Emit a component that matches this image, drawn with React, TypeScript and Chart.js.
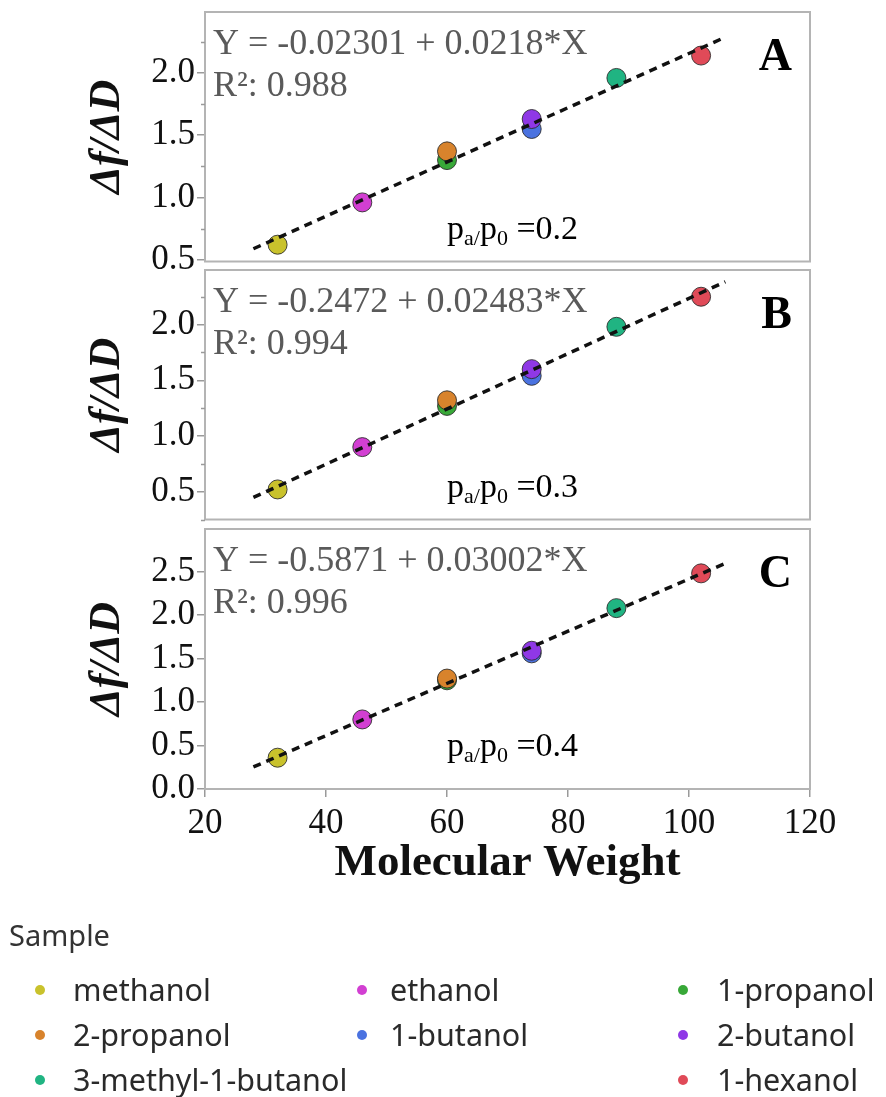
import React, { useEffect, useRef } from 'react';
import { Chart, registerables } from 'chart.js';

Chart.register(...registerables);

// ---------- data ----------
const samples = ['methanol', 'ethanol', '1-propanol', '2-propanol', '1-butanol', '2-butanol', '3-methyl-1-butanol', '1-hexanol'];
const sampleColors = ['#c9c22c', '#d23fd2', '#38a838', '#d8832c', '#4a72e0', '#8f38e6', '#20b482', '#e04a58'];
const molecularWeights = [32, 46, 60, 60, 74, 74, 88, 102];
const ratioA = [0.62, 0.96, 1.3, 1.37, 1.55, 1.63, 1.96, 2.14];
const ratioB = [0.52, 0.9, 1.27, 1.32, 1.54, 1.6, 1.98, 2.25];
const ratioC = [0.36, 0.8, 1.25, 1.27, 1.56, 1.59, 2.08, 2.48];
const panelLetters = ['A', 'B', 'C'];
const pressureRatios = ['0.2', '0.3', '0.4'];
const fitIntercepts = [-0.02301, -0.2472, -0.5871];
const fitSlopes = [0.0218, 0.02483, 0.03002];
const fitEquations = ['Y = -0.02301 + 0.0218*X', 'Y = -0.2472 + 0.02483*X', 'Y = -0.5871 + 0.03002*X'];
const rSquared = ['0.988', '0.994', '0.996'];
const fitRange = [28, 106];
const yMins = [0.485, 0.25, 0];
const yMaxs = [2.49, 2.49, 2.99];
const xMin = 20;
const xMax = 120;
const xStep = 20;
const yStep = 0.5;
const minorSteps = [0.25, 0.25, 0];
const legendRows = [[0, 1, 2], [3, 4, 5], [6, -1, 7]];
const panelValues = [ratioA, ratioB, ratioC];

const SERIF = '"Liberation Serif", "Times New Roman", serif';
const SANS = '"Noto Sans", "Open Sans", sans-serif';

const decorPlugin = {
  id: 'panelDecor',
  beforeDatasetsDraw(chart: any, _args: any, opts: any) {
    const { ctx, chartArea } = chart;
    const { left, top, right, bottom } = chartArea;
    ctx.save();
    ctx.strokeStyle = '#b4b4b4';
    ctx.lineWidth = 2;
    ctx.strokeRect(left, top, right - left, bottom - top);
    const step = opts.minorStep;
    if (step > 0) {
      const ys = chart.scales.y;
      ctx.strokeStyle = '#9a9a9a';
      ctx.lineWidth = 1.5;
      const start = Math.ceil(ys.min / step) * step;
      for (let v = start; v <= ys.max + 1e-9; v += step) {
        const r = v / yStep;
        if (Math.abs(r - Math.round(r)) < 1e-6) continue;
        const py = Math.round(ys.getPixelForValue(v)) + 0.5;
        ctx.beginPath();
        ctx.moveTo(left - 4, py);
        ctx.lineTo(left, py);
        ctx.stroke();
      }
    }
    ctx.restore();
  },
  afterDraw(chart: any, _args: any, opts: any) {
    const { ctx, chartArea } = chart;
    const { left, top, right } = chartArea;
    const i = opts.index;
    ctx.save();
    ctx.textBaseline = 'alphabetic';
    ctx.fillStyle = '#5a5a5a';
    ctx.font = `36px ${SERIF}`;
    ctx.textAlign = 'left';
    ctx.fillText(fitEquations[i], left + 8, top + 42);
    ctx.fillText(`R\u00b2: ${rSquared[i]}`, left + 8, top + 84);
    ctx.fillStyle = '#000';
    ctx.font = `bold 46px ${SERIF}`;
    ctx.textAlign = 'right';
    ctx.fillText(panelLetters[i], right - 18, top + 58);
    ctx.textAlign = 'left';
    let x = left + 242;
    const base = top + 227;
    const parts: [string, number, number][] = [
      ['p', 34, 0],
      ['a/', 22, 6],
      ['p', 34, 0],
      ['0', 22, 6],
      [' =' + pressureRatios[i], 34, 0],
    ];
    for (const [t, size, dy] of parts) {
      ctx.font = `${size}px ${SERIF}`;
      ctx.fillText(t, x, base + dy);
      x += ctx.measureText(t).width;
    }
    ctx.restore();
  },
};

function Panel({ index, top, height, showX }: { index: number; top: number; height: number; showX: boolean }) {
  const ref = useRef<HTMLCanvasElement | null>(null);
  useEffect(() => {
    if (!ref.current) return;
    const vals = panelValues[index];
    const b = fitIntercepts[index];
    const m = fitSlopes[index];
    const chart = new Chart(ref.current, {
      type: 'scatter',
      data: {
        datasets: [
          {
            type: 'line',
            data: fitRange.map((x) => ({ x, y: b + m * x })),
            borderColor: '#111',
            borderWidth: 3.5,
            borderDash: [8, 6],
            pointRadius: 0,
            fill: false,
            order: 0,
          } as any,
          {
            data: molecularWeights.map((x, k) => ({ x, y: vals[k] })),
            pointBackgroundColor: sampleColors,
            pointBorderColor: 'rgba(40,40,40,0.85)',
            pointBorderWidth: 1,
            pointRadius: 9.5,
            order: 1,
          },
        ],
      },
      options: {
        animation: false,
        responsive: false,
        maintainAspectRatio: false,
        events: [],
        layout: { padding: { left: 0, right: 76, top: 12, bottom: showX ? 0 : 2 } },
        plugins: {
          legend: { display: false },
          tooltip: { enabled: false },
          panelDecor: { index, minorStep: minorSteps[index] },
        } as any,
        scales: {
          x: {
            type: 'linear',
            display: showX,
            min: xMin,
            max: xMax,
            ticks: {
              stepSize: xStep,
              color: '#111',
              font: { family: SERIF, size: 35 },
              padding: 6,
              maxRotation: 0,
            },
            grid: { drawOnChartArea: false, drawTicks: true, tickLength: 8, color: '#9a9a9a', lineWidth: 1.5 },
            border: { display: false },
            title: {
              display: true,
              text: 'Molecular Weight',
              color: '#111',
              font: { family: SERIF, size: 45, weight: 'bold', lineHeight: 1 },
              padding: { top: 0, bottom: 3 },
            },
            afterFit: (s: any) => {
              if (showX) s.height = 100;
              s.paddingLeft = 0;
              s.paddingRight = 0;
            },
          },
          y: {
            type: 'linear',
            min: yMins[index],
            max: yMaxs[index],
            ticks: {
              stepSize: yStep,
              includeBounds: false,
              color: '#111',
              font: { family: SERIF, size: 35 },
              padding: 2,
              callback: (v: any) => Number(v).toFixed(1),
            },
            grid: { drawOnChartArea: false, drawTicks: true, tickLength: 8, color: '#9a9a9a', lineWidth: 1.5 },
            border: { display: false },
            title: {
              display: true,
              text: '\u0394f/\u0394D',
              color: '#111',
              font: { family: SERIF, size: 44, weight: 'bold', style: 'italic', lineHeight: 1 },
              padding: { top: 86, bottom: 0 },
            },
            afterFit: (s: any) => {
              s.width = 205;
              s.paddingTop = 0;
              s.paddingBottom = 0;
            },
          },
        } as any,
      },
      plugins: [decorPlugin],
    });
    return () => chart.destroy();
  }, [index, showX]);
  return (
    <canvas
      ref={ref}
      width={886}
      height={height}
      style={{ position: 'absolute', left: 0, top, width: 886, height }}
    />
  );
}

function Legend() {
  const colX = [40, 362, 683];
  const textX = [73, 390, 717];
  const rowY = [990, 1035, 1080];
  return (
    <div style={{ position: 'absolute', left: 0, top: 0, width: 886, height: 1097, fontFamily: SANS, color: '#2a2a2a' }}>
      <div style={{ position: 'absolute', left: 9, top: 915, fontSize: 29, lineHeight: '40px', color: '#333' }}>Sample</div>
      {legendRows.map((row, r) =>
        row.map((si, c) =>
          si < 0 ? null : (
            <React.Fragment key={`${r}-${c}`}>
              <div
                style={{
                  position: 'absolute',
                  left: colX[c] - 5,
                  top: rowY[r] - 5,
                  width: 10,
                  height: 10,
                  borderRadius: 5,
                  background: sampleColors[si],
                }}
              />
              <div
                style={{
                  position: 'absolute',
                  left: textX[c],
                  top: rowY[r] - 22,
                  fontSize: 30.5,
                  lineHeight: '42px',
                  whiteSpace: 'nowrap',
                }}
              >
                {samples[si]}
              </div>
            </React.Fragment>
          )
        )
      )}
    </div>
  );
}

export default function App() {
  return (
    <div style={{ position: 'absolute', left: 0, top: 0, width: 886, height: 1097, background: '#fff', overflow: 'hidden' }}>
      <Panel index={0} top={0} height={272} showX={false} />
      <Panel index={1} top={258} height={272} showX={false} />
      <Panel index={2} top={517} height={372} showX={true} />
      <Legend />
    </div>
  );
}
